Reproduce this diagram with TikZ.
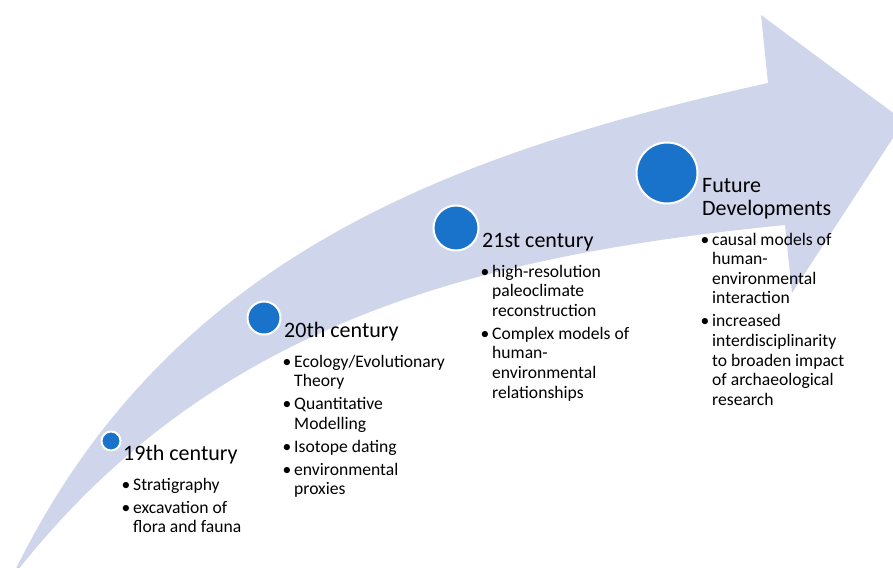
\documentclass[tikz,border=0pt]{standalone}
\usepackage{fontspec}
\setmainfont{Carlito}
\definecolor{band}{RGB}{207,213,234}
\definecolor{dotblue}{RGB}{26,115,203}
\newcommand{\bl}{\makebox[11.5pt][l]{\textbullet}}
\tikzset{
  milestone/.style={circle, fill=dotblue, draw=white, line width=2pt, inner sep=0pt},
  era/.style={anchor=base west, inner sep=0pt, font=\fontsize{22}{23}\selectfont},
  items/.style={anchor=base west, inner sep=0pt, font=\fontsize{17.6}{19.6}\selectfont}
}
\begin{document}
\begin{tikzpicture}[x=1pt, y=-1pt]
\useasboundingbox (0,0) rectangle (893,567);
\begin{scope}
\clip (0,0) rectangle (893,567);
\fill[band] (11,579) .. controls (162,263) and (438,156) .. (768,83)
  -- (761,15) -- (904,121) -- (792,293) -- (785,225)
  .. controls (485,255) and (211,319) .. (11,579) -- cycle;
\end{scope}

\node[milestone, minimum size=19pt] (m19) at (111,441) {};
\node[milestone, minimum size=33pt] (m20) at (264,318) {};
\node[milestone, minimum size=45pt] (m21) at (456,228) {};
\node[milestone, minimum size=61pt] (mF) at (667,173) {};

\node[era] (t19) at (123,460) {19th century};
\node[items] (i19) at (121.5,490) {\begin{tabular}[t]{@{}l@{}l@{}}
\bl&Stratigraphy\\[3.4pt]
\bl&excavation of\\
&flora and fauna
\end{tabular}};

\node[era] (t20) at (284,337) {20th century};
\node[items] (i20) at (282.5,367) {\begin{tabular}[t]{@{}l@{}l@{}}
\bl&Ecology/Evolutionary\\
&Theory\\[3.4pt]
\bl&Quantitative\\
&Modelling\\[3.4pt]
\bl&Isotope dating\\[3.4pt]
\bl&environmental\\
&proxies
\end{tabular}};

\node[era] (t21) at (482,247) {21st century};
\node[items] (i21) at (480.5,277) {\begin{tabular}[t]{@{}l@{}l@{}}
\bl&high-resolution\\
&paleoclimate\\
&reconstruction\\[3.4pt]
\bl&Complex models of\\
&human-\\
&environmental\\
&relationships
\end{tabular}};

\node[era] (tF) at (702,192) {\begin{tabular}[t]{@{}l@{}}Future\\Developments\end{tabular}};
\node[items] (iF) at (700.5,245) {\begin{tabular}[t]{@{}l@{}l@{}}
\bl&causal models of\\
&human-\\
&environmental\\
&interaction\\[3.4pt]
\bl&increased\\
&interdisciplinarity\\
&to broaden impact\\
&of archaeological\\
&research
\end{tabular}};
\end{tikzpicture}
\end{document}
